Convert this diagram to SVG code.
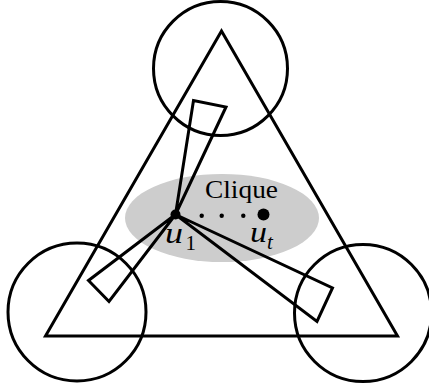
<svg xmlns="http://www.w3.org/2000/svg" width="429" height="390" viewBox="0 0 429 390">
<style>
.s{fill:none;stroke:#000;stroke-width:3;stroke-linejoin:miter}
.d{fill:#000}
.t{font-family:"Liberation Serif","Times New Roman",serif;fill:#000}
.i{font-style:italic}
</style>
<rect width="429" height="390" fill="#fff"/>
<g id="clique">
<ellipse cx="222" cy="218" rx="97" ry="44" fill="#cdcdcd"/>
<text class="t" x="205" y="198" font-size="25" textLength="73" lengthAdjust="spacingAndGlyphs">Clique</text>
</g>
<g id="triangle"><polygon class="s" points="221.5,31 45.5,336 397.5,336"/></g>
<g id="circle-top"><circle class="s" cx="220.5" cy="68.5" r="67"/></g>
<g id="circle-left"><circle class="s" cx="77" cy="312" r="69"/></g>
<g id="circle-right"><circle class="s" cx="363" cy="313" r="68.5"/></g>
<g id="connectors">
<polygon class="s" points="175.5,214.5 193.5,100.5 226,107"/>
<polygon class="s" points="175.5,214.5 88.5,280.5 109,301.5"/>
<polygon class="s" points="175.5,214.5 332.5,288 317,321.5"/>
</g>
<g id="u1">
<circle class="d" cx="175.5" cy="214.5" r="5"/>
<text class="t i" x="165" y="242.5" font-size="30" textLength="18" lengthAdjust="spacingAndGlyphs">u</text>
<text class="t" x="185.5" y="250" font-size="21">1</text>
</g>
<g id="dots">
<circle class="d" cx="201.7" cy="215.7" r="2.2"/>
<circle class="d" cx="221.7" cy="215.7" r="2.2"/>
<circle class="d" cx="243.3" cy="215.7" r="2.2"/>
</g>
<g id="ut">
<circle class="d" cx="263.5" cy="214.5" r="6"/>
<text class="t i" x="250" y="242" font-size="30" textLength="17" lengthAdjust="spacingAndGlyphs">u</text>
<text class="t i" x="267" y="248.5" font-size="21">t</text>
</g>
</svg>
